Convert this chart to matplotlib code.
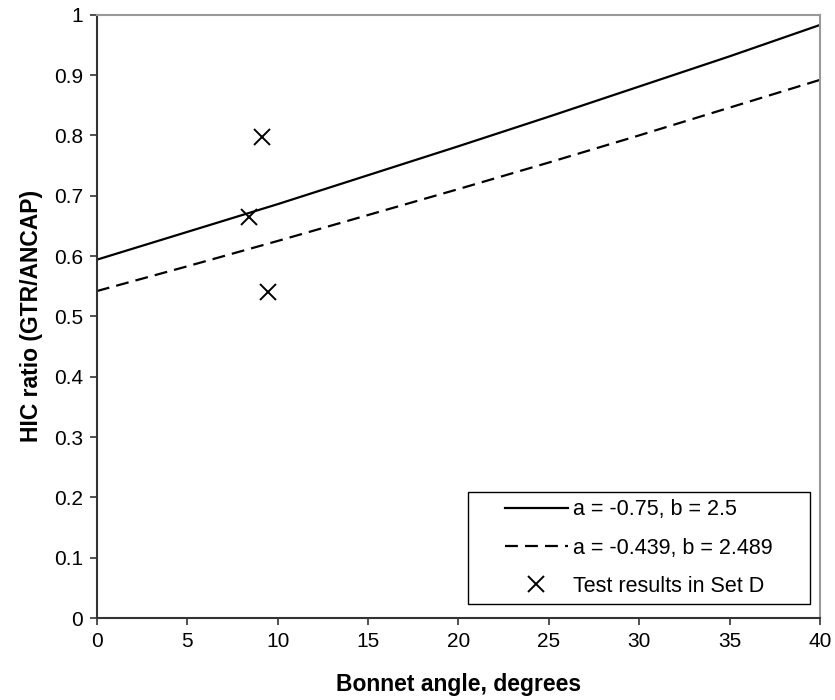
import numpy as np
import matplotlib.pyplot as plt
from matplotlib.patches import Rectangle

plt.rcParams['font.family'] = ['Liberation Sans', 'DejaVu Sans']

# bonnet angle (degrees) and HIC ratio curves
angle = [0, 5, 10, 15, 20, 25, 30, 35, 40]
ratio_a075 = [0.594, 0.640, 0.686, 0.734, 0.782, 0.831, 0.881, 0.931, 0.983]
ratio_a0439 = [0.542, 0.583, 0.625, 0.668, 0.711, 0.755, 0.800, 0.846, 0.892]

# test results, set D
test_angle = [9.13, 8.42, 9.49]
test_ratio = [0.798, 0.664, 0.541]

fig = plt.figure(figsize=(8.35, 7), dpi=100)
ax = fig.add_axes([0.116, 0.117, 0.866, 0.862])

ax.plot(angle, ratio_a075, color='black', lw=1.6, label='a = -0.75, b = 2.5')
ax.plot(angle, ratio_a0439, color='black', lw=1.6, dashes=(5.8, 3.2),
        label='a = -0.439, b = 2.489')
ax.plot(test_angle, test_ratio, linestyle='none', marker='x', ms=11,
        mew=1.4, color='black', label='Test results in Set D')

ax.set_xlim(0, 40)
ax.set_ylim(0, 1)
ax.set_xticks(range(0, 41, 5))
ax.set_yticks(np.arange(0, 1.01, 0.1))
ax.set_yticklabels(['0', '0.1', '0.2', '0.3', '0.4', '0.5', '0.6', '0.7',
                    '0.8', '0.9', '1'])
ax.tick_params(direction='out', length=5, width=1.2, labelsize=15,
               color='#333333', pad=5)

for side in ('left', 'bottom'):
    ax.spines[side].set_color('#333333')
    ax.spines[side].set_linewidth(1.5)
for side in ('top', 'right'):
    ax.spines[side].set_color('#999999')
    ax.spines[side].set_linewidth(1.5)

ax.set_xlabel('Bonnet angle, degrees', fontsize=16.5, fontweight='bold',
              labelpad=16)
ax.set_ylabel('HIC ratio (GTR/ANCAP)', fontsize=16.5, fontweight='bold',
              labelpad=8)

# legend box with wide side margins
ax.add_patch(Rectangle((0.513, 0.023), 0.473, 0.186, transform=ax.transAxes,
                       facecolor='white', edgecolor='black', lw=1.0,
                       zorder=4))
leg = ax.legend(loc='center', bbox_to_anchor=(0.7495, 0.116),
                fontsize=15.5, frameon=False,
                handlelength=2.9, handletextpad=0.25, labelspacing=0.8,
                borderpad=0)
leg.set_zorder(5)

fig.savefig('out.png', dpi=100)
